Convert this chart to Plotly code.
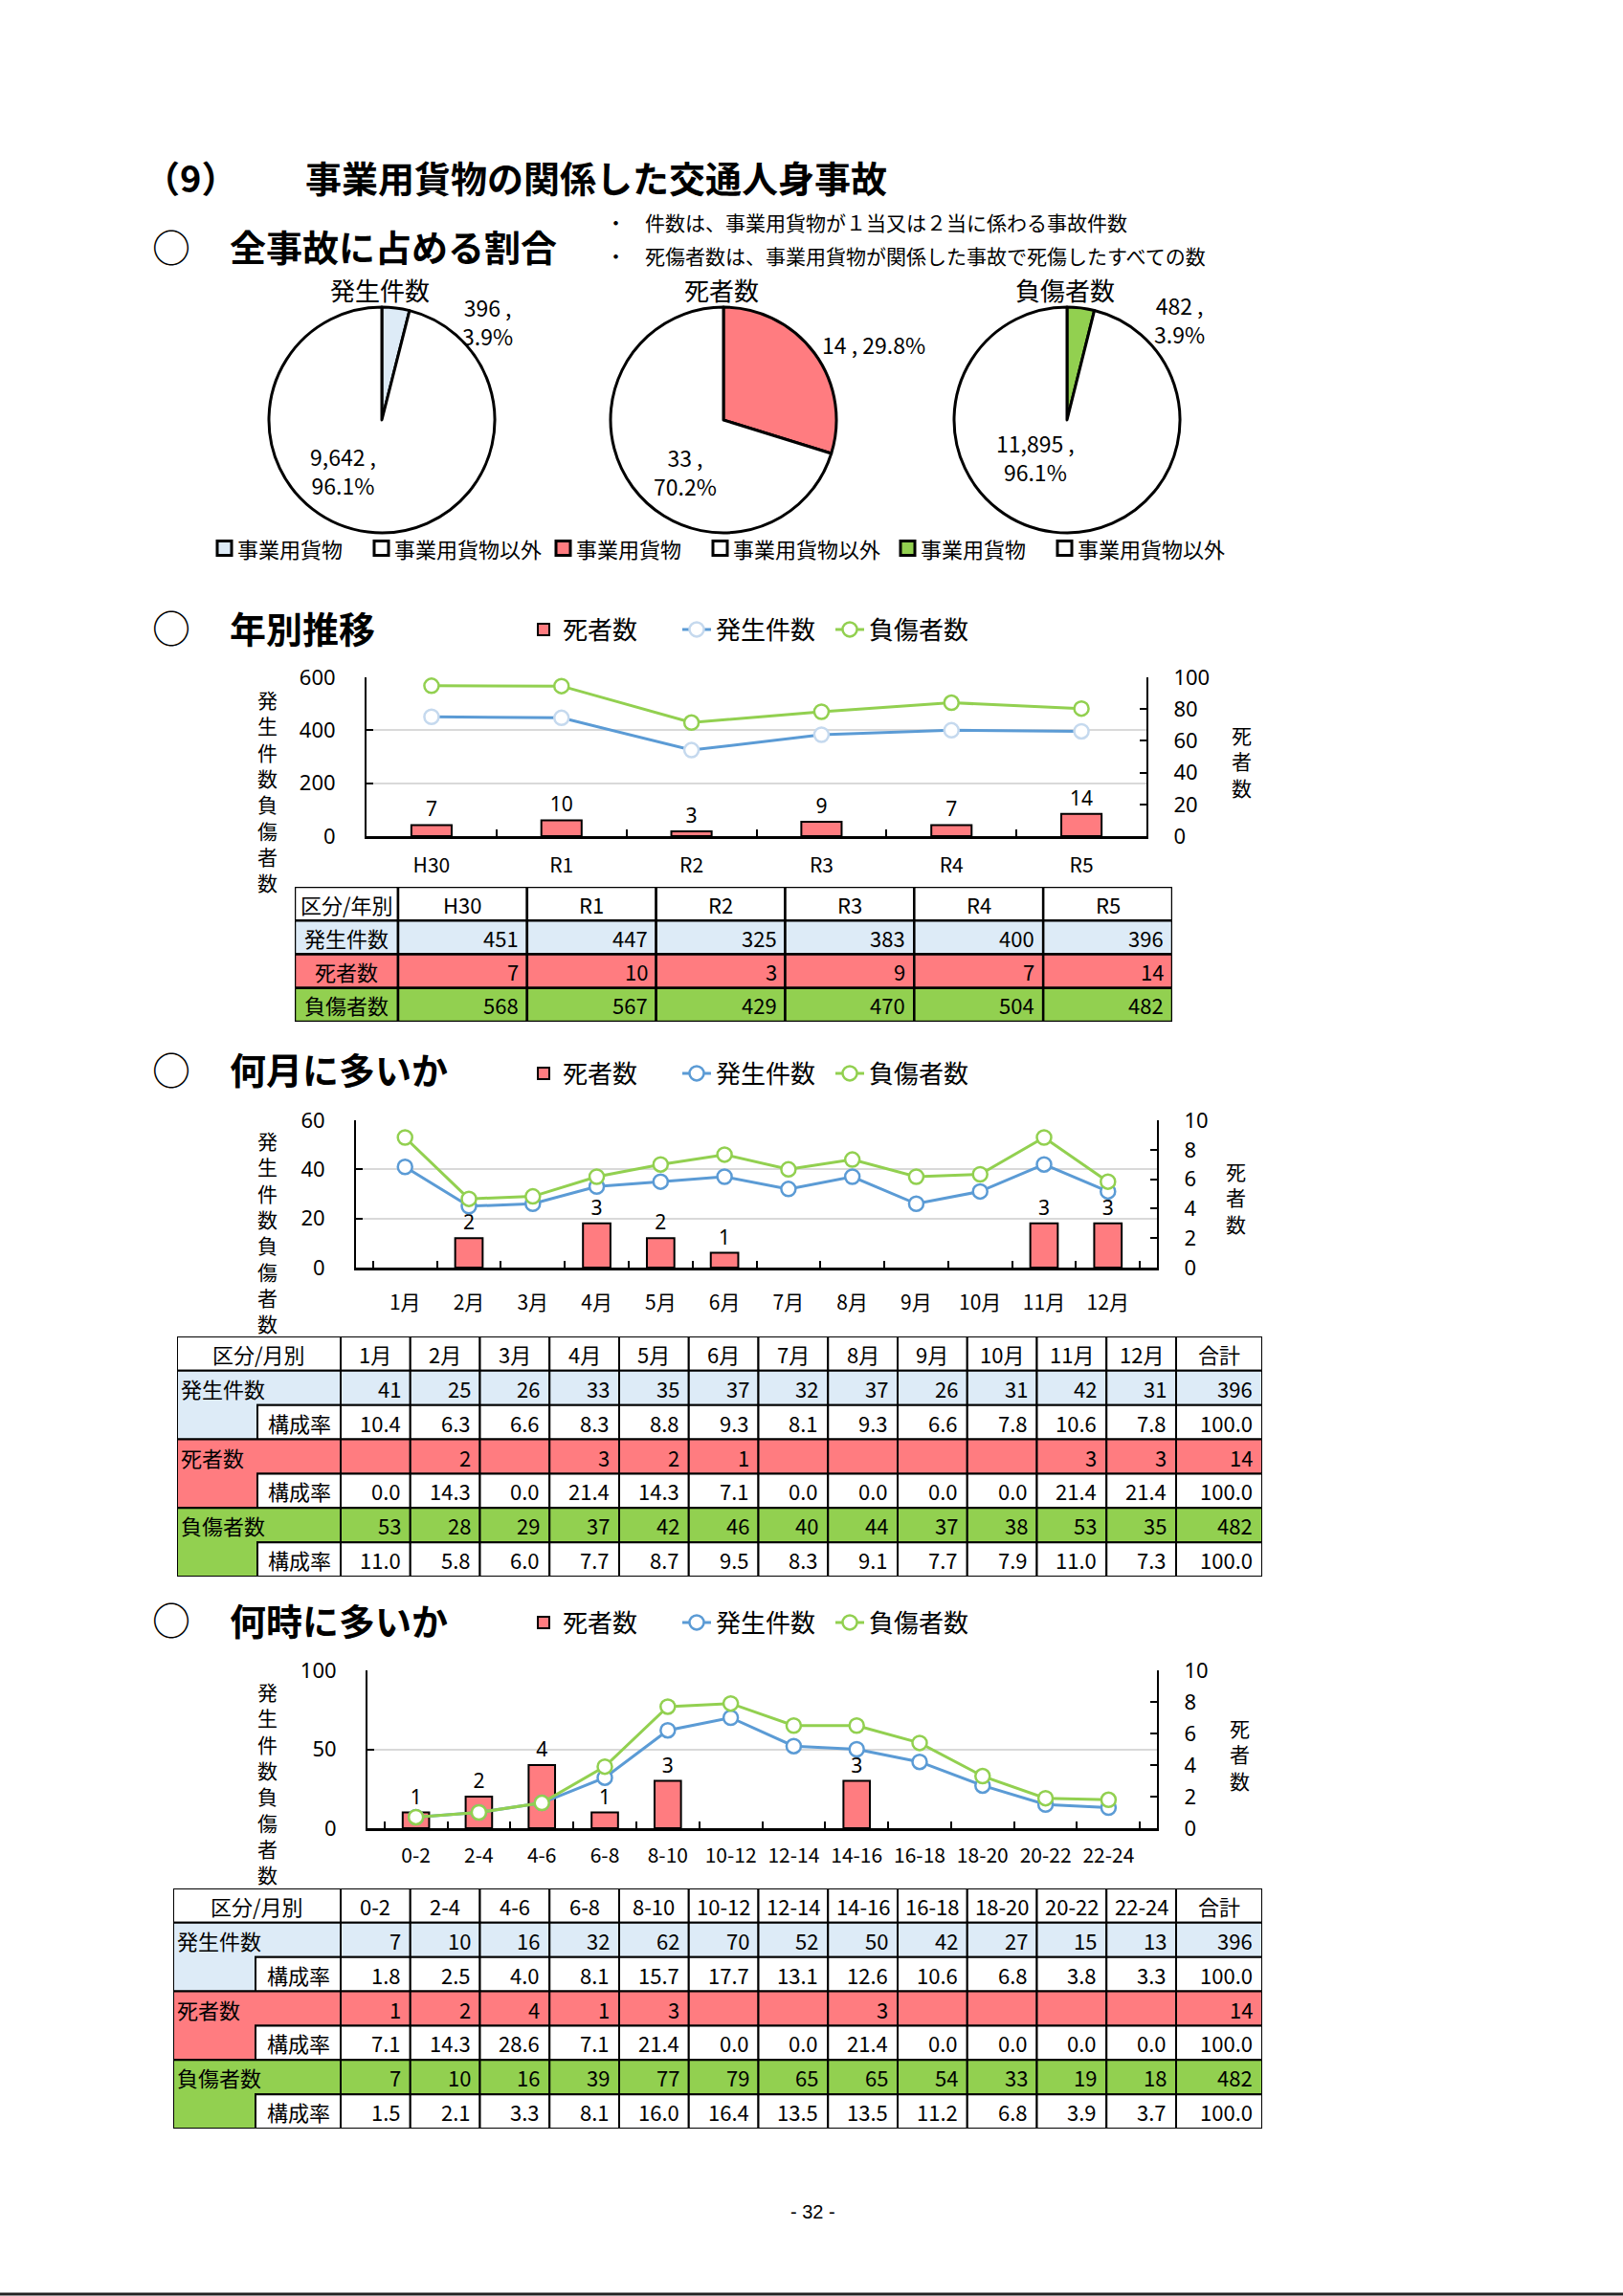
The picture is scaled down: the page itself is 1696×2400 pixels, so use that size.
import plotly.graph_objects as go

W, H = 1696, 2400
JP = "Noto Sans CJK JP"
LAT = "Noto Sans"

# ---------------- data ----------------
pie_titles = ["発生件数", "死者数", "負傷者数"]
pie_labels = ["事業用貨物", "事業用貨物以外"]
pie_accidents = [396, 9642]
pie_deaths = [14, 33]
pie_injuries = [482, 11895]

series_names = ["死者数", "発生件数", "負傷者数"]

year_cats = ["H30", "R1", "R2", "R3", "R4", "R5"]
year_accidents = [451, 447, 325, 383, 400, 396]
year_deaths = [7, 10, 3, 9, 7, 14]
year_injuries = [568, 567, 429, 470, 504, 482]

month_cats = ["1月", "2月", "3月", "4月", "5月", "6月", "7月", "8月", "9月", "10月", "11月", "12月"]
month_accidents = [41, 25, 26, 33, 35, 37, 32, 37, 26, 31, 42, 31]
month_deaths = [0, 2, 0, 3, 2, 1, 0, 0, 0, 0, 3, 3]
month_injuries = [53, 28, 29, 37, 42, 46, 40, 44, 37, 38, 53, 35]
month_accident_rates = [10.4, 6.3, 6.6, 8.3, 8.8, 9.3, 8.1, 9.3, 6.6, 7.8, 10.6, 7.8]
month_death_rates = [0.0, 14.3, 0.0, 21.4, 14.3, 7.1, 0.0, 0.0, 0.0, 0.0, 21.4, 21.4]
month_injury_rates = [11.0, 5.8, 6.0, 7.7, 8.7, 9.5, 8.3, 9.1, 7.7, 7.9, 11.0, 7.3]

hour_cats = ["0-2", "2-4", "4-6", "6-8", "8-10", "10-12", "12-14", "14-16", "16-18", "18-20", "20-22", "22-24"]
hour_accidents = [7, 10, 16, 32, 62, 70, 52, 50, 42, 27, 15, 13]
hour_deaths = [1, 2, 4, 1, 3, 0, 0, 3, 0, 0, 0, 0]
hour_injuries = [7, 10, 16, 39, 77, 79, 65, 65, 54, 33, 19, 18]
hour_accident_rates = [1.8, 2.5, 4.0, 8.1, 15.7, 17.7, 13.1, 12.6, 10.6, 6.8, 3.8, 3.3]
hour_death_rates = [7.1, 14.3, 28.6, 7.1, 21.4, 0.0, 0.0, 21.4, 0.0, 0.0, 0.0, 0.0]
hour_injury_rates = [1.5, 2.1, 3.3, 8.1, 16.0, 16.4, 13.5, 13.5, 11.2, 6.8, 3.9, 3.7]
total_rate = 100.0

# ---------------- styles ----------------
BLUE_FILL = "#DDEBF7"
SALMON = "#FF7C80"
GREEN = "#92D050"
LINE_BLUE = "#5B9BD5"
PALE_BLUE = "#C5D9EE"
GRID = "#D9D9D9"


def px_x(x):
    return x / W


def px_y(y):
    return 1 - y / H


def dom_x(x0, x1):
    return [x0 / W, x1 / W]


def dom_y(y0, y1):
    return [1 - y1 / H, 1 - y0 / H]


fig = go.Figure()
lay = {}
annotations = []
shapes = []


def text(x, y, s, size, family=JP, xanchor="center", yanchor="middle",
         xref="paper", yref="paper", align="center", color="black"):
    if xref == "paper":
        x = px_x(x)
    if yref == "paper":
        y = px_y(y)
    annotations.append(dict(x=x, y=y, xref=xref, yref=yref, text=s, showarrow=False,
                            xanchor=xanchor, yanchor=yanchor, align=align,
                            font=dict(family=family, size=size, color=color)))


def vtext(x, y, s, size):
    text(x, y, "<br>".join(list(s)), size)


# ---------------- page headings ----------------
text(148, 184, "<b>（9）</b>", 38, xanchor="left")
text(317, 184, "<b>事業用貨物の関係した交通人身事故</b>", 38, xanchor="left")

section_titles = [("全事故に占める割合", 257), ("年別推移", 655), ("何月に多いか", 1117), ("何時に多いか", 1692)]
for s, y in section_titles:
    text(179, y, "○", 40)
    text(238, y, "<b>" + s + "</b>", 38, xanchor="left")

text(643, 232, "・", 21)
text(672, 232, "件数は、事業用貨物が１当又は２当に係わる事故件数", 21, xanchor="left")
text(643, 267, "・", 21)
text(672, 267, "死傷者数は、事業用貨物が関係した事故で死傷したすべての数", 21, xanchor="left")

# ---------------- pies ----------------
pie_sets = [pie_accidents, pie_deaths, pie_injuries]
pie_colors = [BLUE_FILL, SALMON, GREEN]
pie_cx = [399, 756, 1115]
pie_cy = 439
pie_r = 118
pie_small_pos = [(510, 336), (913, 360), (1232, 334)]
pie_big_pos = [(358, 492), (716, 493), (1082, 478)]
pie_small_sep = [",<br>", ", ", ",<br>"]
pie_swatch_x = [(227, 391), (581, 745), (941, 1105)]
SW = 15
LEG_Y = 573

for i, vals in enumerate(pie_sets):
    cx, r = pie_cx[i], pie_r
    colors = [pie_colors[i], "white"]
    fig.add_trace(go.Pie(
        values=vals, labels=pie_labels, sort=False, direction="clockwise", rotation=0,
        marker=dict(colors=colors, line=dict(color="black", width=3)),
        textinfo="none", hoverinfo="label+value+percent",
        domain=dict(x=dom_x(cx - r, cx + r), y=dom_y(pie_cy - r, pie_cy + r)),
        showlegend=False))
    tot = sum(vals)
    pcts = [v / tot * 100 for v in vals]
    text(cx - 2, 303, pie_titles[i], 26)
    sx, sy = pie_small_pos[i]
    text(sx, sy, f"{vals[0]:,} {pie_small_sep[i]}{pcts[0]:.1f}%", 23)
    bx, by = pie_big_pos[i]
    text(bx, by, f"{vals[1]:,} ,<br>{pcts[1]:.1f}%", 23)
    # legend (swatch + label) for this pie
    for j, lab in enumerate(pie_labels):
        lx = pie_swatch_x[i][j]
        shapes.append(dict(type="rect", xref="paper", yref="paper",
                           x0=px_x(lx), x1=px_x(lx + SW), y0=px_y(LEG_Y + SW / 2), y1=px_y(LEG_Y - SW / 2),
                           fillcolor=colors[j], line=dict(color="black", width=3)))
        text(lx + SW + 4, LEG_Y, lab, 22, xanchor="left")


# ---------------- combo charts ----------------
def combo(n, cats, deaths, accidents, injuries, box, left_max, left_dtick, right_max, right_dtick,
          bar_w, acc_marker_line, legend_y, cat_standoff, ltitle, rtitle):
    x0, y0, x1, y1 = box
    xa = "x" if n == 1 else f"x{n}"
    xk = "xaxis" if n == 1 else f"xaxis{n}"
    ybn, yln = 2 * n - 1, 2 * n
    yb = "y" if ybn == 1 else f"y{ybn}"
    ybk = "yaxis" if ybn == 1 else f"yaxis{ybn}"
    yl, ylk = f"y{yln}", f"yaxis{yln}"
    leg = "legend" if n == 1 else f"legend{n}"

    fig.add_trace(go.Bar(
        x=cats, y=[v if v else None for v in deaths], name=series_names[0], xaxis=xa, yaxis=yb,
        width=bar_w, marker=dict(color=SALMON, line=dict(color="black", width=2)),
        text=[str(v) if v else "" for v in deaths], textposition="outside",
        textfont=dict(family=LAT, size=21, color="black"), cliponaxis=False,
        constraintext="none", legend=leg))
    fig.add_trace(go.Scatter(
        x=cats, y=accidents, name=series_names[1], mode="lines+markers", xaxis=xa, yaxis=yl,
        line=dict(color=LINE_BLUE, width=3),
        marker=dict(size=15, color="white", line=dict(color=acc_marker_line, width=2.5)),
        cliponaxis=False, legend=leg))
    fig.add_trace(go.Scatter(
        x=cats, y=injuries, name=series_names[2], mode="lines+markers", xaxis=xa, yaxis=yl,
        line=dict(color=GREEN, width=3),
        marker=dict(size=15, color="white", line=dict(color=GREEN, width=2.5)),
        cliponaxis=False, legend=leg))

    axcommon = dict(showline=True, linecolor="black", ticks="inside", ticklen=7, tickwidth=2,
                    tickcolor="black", zeroline=False, fixedrange=True)
    lay[xk] = dict(domain=dom_x(x0, x1), anchor=yb, type="category", linewidth=2.5,
                   tickson="boundaries", showgrid=False,
                   tickfont=dict(family=JP, size=21, color="black"),
                   ticklabelstandoff=cat_standoff, **axcommon)
    lay[ybk] = dict(domain=dom_y(y0, y1), anchor=xa, side="right", range=[0, right_max],
                    tick0=0, dtick=right_dtick, linewidth=2, showgrid=False,
                    tickfont=dict(family=LAT, size=22, color="black"), ticklabelstandoff=22,
                    **axcommon)
    lay[ylk] = dict(overlaying=yb, anchor=xa, side="left", range=[0, left_max], tick0=0,
                    dtick=left_dtick, linewidth=2, showgrid=True, gridcolor=GRID, gridwidth=2,
                    tickfont=dict(family=LAT, size=22, color="black"), ticklabelstandoff=26,
                    **axcommon)
    lay[leg] = dict(orientation="h", x=px_x(548), xanchor="left", y=px_y(legend_y),
                    yanchor="middle", font=dict(family=JP, size=26, color="black"),
                    bgcolor="rgba(0,0,0,0)", entrywidth=115, traceorder="normal")
    vtext(ltitle[0], ltitle[1], "発生件数負傷者数", 21)
    vtext(rtitle[0], rtitle[1], "死者数", 21)


combo(1, year_cats, year_deaths, year_accidents, year_injuries, (383, 708, 1198, 874),
      600, 200, 100, 20, 0.31, PALE_BLUE, 658, 10, (279, 826), (1297, 795))
combo(2, month_cats, month_deaths, month_accidents, month_injuries, (372, 1171, 1209, 1325),
      60, 20, 10, 2, 0.43, LINE_BLUE, 1122, 16, (279, 1287), (1291, 1252))
combo(3, hour_cats, hour_deaths, hour_accidents, hour_injuries, (384, 1746, 1209, 1911),
      100, 50, 10, 2, 0.42, LINE_BLUE, 1696, 8, (279, 1864), (1295, 1833))


# ---------------- tables ----------------
def table_axes(xi, yi, box, total_w, total_h):
    x0, y0, x1, y1 = box
    lay[f"xaxis{xi}"] = dict(domain=dom_x(x0, x1), range=[0, total_w], visible=False,
                             anchor=f"y{yi}", fixedrange=True)
    lay[f"yaxis{yi}"] = dict(domain=dom_y(y0, y1), range=[total_h, 0], visible=False,
                             anchor=f"x{xi}", fixedrange=True)
    fig.add_trace(go.Scatter(x=[0], y=[0], xaxis=f"x{xi}", yaxis=f"y{yi}", mode="markers",
                             marker=dict(opacity=0), showlegend=False, hoverinfo="skip"))
    return f"x{xi}", f"y{yi}"


def make_rect(xr, yr, lw):
    def rect(xa, xb, ya, yb, fill):
        shapes.append(dict(type="rect", xref=xr, yref=yr, x0=xa, x1=xb, y0=ya, y1=yb,
                           fillcolor=fill, line=dict(color="black", width=lw), layer="above"))
    return rect


def make_cell_text(xr, yr):
    def ct(x, y, s, anchor, size=22):
        text(x, y, s, size, family=JP, xanchor=anchor, xref=xr, yref=yr)
    return ct


def simple_table(xi, yi, box, first_w, row_h, header_label, cats, groups):
    x0, y0, x1, y1 = box
    n = len(cats)
    data_w = (x1 - x0 - first_w) / n
    edges = [0, first_w] + [first_w + data_w * (i + 1) for i in range(n)]
    xr, yr = table_axes(xi, yi, box, edges[-1], row_h * (1 + len(groups)))
    rect = make_rect(xr, yr, 2.5)
    ct = make_cell_text(xr, yr)
    rect(edges[0], edges[1], 0, row_h, "white")
    ct((edges[0] + edges[1]) / 2, row_h / 2, header_label, "center")
    for i, c in enumerate(cats):
        rect(edges[1 + i], edges[2 + i], 0, row_h, "white")
        ct((edges[1 + i] + edges[2 + i]) / 2, row_h / 2, c, "center")
    for g, (label, fill, vals) in enumerate(groups):
        r0, r1 = row_h * (1 + g), row_h * (2 + g)
        rect(edges[0], edges[1], r0, r1, fill)
        ct((edges[0] + edges[1]) / 2, (r0 + r1) / 2, label, "center")
        for i, v in enumerate(vals):
            rect(edges[1 + i], edges[2 + i], r0, r1, fill)
            ct(edges[2 + i] - 7, (r0 + r1) / 2, f"{v:,}", "right")


def grouped_table(xi, yi, box, a_w, b_w, tot_w, header_label, cats, groups, total_label="合計"):
    x0, y0, x1, y1 = box
    n = len(cats)
    data_w = (x1 - x0 - a_w - b_w - tot_w) / n
    edges = [0, a_w, a_w + b_w] + [a_w + b_w + data_w * (i + 1) for i in range(n)]
    edges.append(edges[-1] + tot_w)
    n_rows = 1 + 2 * len(groups)
    row_h = (y1 - y0) / n_rows
    xr, yr = table_axes(xi, yi, box, edges[-1], row_h * n_rows)
    rect = make_rect(xr, yr, 2)
    ct = make_cell_text(xr, yr)
    rect(edges[0], edges[2], 0, row_h, "white")
    ct((edges[0] + edges[2]) / 2, row_h / 2, header_label, "center")
    for i, c in enumerate(cats + [total_label]):
        rect(edges[2 + i], edges[3 + i], 0, row_h, "white")
        ct((edges[2 + i] + edges[3 + i]) / 2, row_h / 2, c, "center")
    for g, (label, fill, counts, rates) in enumerate(groups):
        r0 = row_h * (1 + 2 * g)
        r1, r2 = r0 + row_h, r0 + 2 * row_h
        path = (f"M{edges[0]},{r0} L{edges[2]},{r0} L{edges[2]},{r1} L{edges[1]},{r1} "
                f"L{edges[1]},{r2} L{edges[0]},{r2} Z")
        shapes.append(dict(type="path", path=path, xref=xr, yref=yr, fillcolor=fill,
                           line=dict(color="black", width=2), layer="above"))
        ct(edges[0] + 2, (r0 + r1) / 2, label, "left")
        rect(edges[1], edges[2], r1, r2, "white")
        ct((edges[1] + edges[2]) / 2, (r1 + r2) / 2, "構成率", "center")
        vals = counts + [sum(counts)]
        rts = rates + [total_rate]
        for i in range(n + 1):
            rect(edges[2 + i], edges[3 + i], r0, r1, fill)
            ct(edges[3 + i] - 8, (r0 + r1) / 2, f"{vals[i]:,}" if vals[i] else "", "right")
            rect(edges[2 + i], edges[3 + i], r1, r2, "white")
            ct(edges[3 + i] - 8, (r1 + r2) / 2, f"{rts[i]:.1f}", "right")


simple_table(4, 7, (308, 927, 1225, 1068), 108, 35.25, "区分/年別", year_cats,
             [("発生件数", BLUE_FILL, year_accidents),
              ("死者数", SALMON, year_deaths),
              ("負傷者数", GREEN, year_injuries)])

grouped_table(5, 8, (185, 1397, 1319, 1648), 84, 87, 90, "区分/月別", month_cats,
              [("発生件数", BLUE_FILL, month_accidents, month_accident_rates),
               ("死者数", SALMON, month_deaths, month_death_rates),
               ("負傷者数", GREEN, month_injuries, month_injury_rates)])

grouped_table(6, 9, (181, 1974, 1319, 2225), 86, 89, 90, "区分/月別", hour_cats,
              [("発生件数", BLUE_FILL, hour_accidents, hour_accident_rates),
               ("死者数", SALMON, hour_deaths, hour_death_rates),
               ("負傷者数", GREEN, hour_injuries, hour_injury_rates)])

# ---------------- footer ----------------
text(850, 2312, "- 32 -", 20, family="Liberation Sans")
shapes.append(dict(type="line", xref="paper", yref="paper", x0=0, x1=1, y0=px_y(2398), y1=px_y(2398),
                   line=dict(color="#222222", width=3)))

fig.update_layout(**lay)
fig.update_layout(annotations=annotations, shapes=shapes, width=W, height=H, autosize=False,
                  margin=dict(l=0, r=0, t=0, b=0, pad=0), paper_bgcolor="white",
                  plot_bgcolor="white", template="none", showlegend=True,
                  font=dict(family=JP, color="black"))

fig.write_html("out.html", config={"displayModeBar": False},
               post_script="document.body.style.margin='0';")
